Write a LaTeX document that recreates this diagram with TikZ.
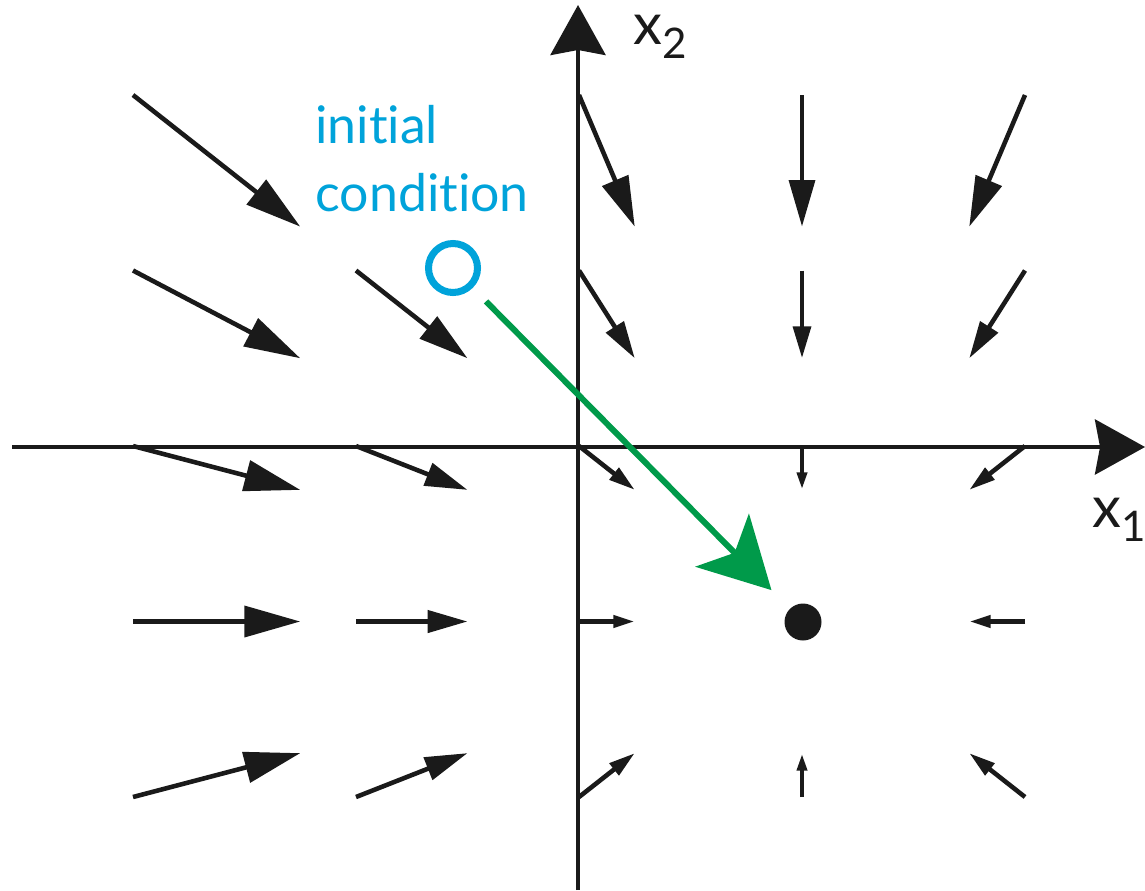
\documentclass[tikz,border=0pt]{standalone}
\usepackage{fontspec}
\setmainfont{Lato}[Ligatures=NoCommon]
\usetikzlibrary{arrows.meta, positioning, calc}
\definecolor{IC}{RGB}{0,163,218}
\definecolor{TR}{RGB}{0,154,74}
\definecolor{DK}{RGB}{26,26,26}

\begin{document}
\begin{tikzpicture}[
  x=0.02cm, y=-0.02cm,
  axis/.style={draw=DK, line width=2.4pt,
               -{Stealth[length=1cm, width=1.1cm, inset=0.1cm]}},
  field/.style={draw=DK, line width=2.6pt},
  lbl/.style={font=\fontsize{33}{33}\selectfont, text=DK, inner sep=0pt},
  start/.style={circle, draw=IC, line width=4pt, minimum size=0.98cm, inner sep=0pt},
  fixpt/.style={circle, fill=DK, minimum size=0.74cm, inner sep=0pt},
  traj/.style={draw=TR, line width=3.4pt,
               -{Stealth[length=1.4cm, width=1.5cm, inset=0.35cm]}}
]
\useasboundingbox (0,0) rectangle (1145,890);

% Axes
\coordinate (xl) at (12,447);
\coordinate (xr) at (1145,447);
\coordinate (yb) at (578,890);
\coordinate (yt) at (578,5);
\draw[axis] (xl) -- (xr);
\draw[axis] (yb) -- (yt);
\node[lbl, anchor=base west] (x2) at (633,44)
  {x\raisebox{-8pt}{\fontsize{24}{24}\selectfont 2}};
\node[lbl, anchor=base west] (x1) at (1092,527)
  {x\raisebox{-8pt}{\fontsize{24}{24}\selectfont 1}};

% Vector field towards the fixed point
\foreach \c in {0,...,4}
  \foreach \r in {0,...,4}{
    \pgfmathsetmacro\sx{133+223*\c}
    \pgfmathsetmacro\sy{95+175.5*\r}
    \pgfmathsetmacro\ex{\sx+0.25*(802-\sx)}
    \pgfmathsetmacro\ey{\sy+0.25*(621.5-\sy)}
    \pgfmathsetmacro\len{veclen(\ex-\sx,\ey-\sy)}
    \pgfmathsetmacro\hl{0.02*min(0.33*\len+3,56)}
    \pgfmathsetmacro\hw{0.55*\hl}
    \pgfmathtruncatemacro\noarrow{(\c==1 && \r==0) || (\c==3 && \r==3)}
    \ifnum\noarrow=0
      \coordinate (s\c\r) at (\sx,\sy);
      \coordinate (e\c\r) at (\ex,\ey);
      \draw[field, -{Triangle[length=\hl cm, width=\hw cm]}]
        (s\c\r) -- (e\c\r);
    \fi
  }

% Initial condition and trajectory
\node[font=\fontsize{29.5}{38.5}\selectfont, text=IC, align=left,
      anchor=base west, inner sep=0pt] (iclbl) at (315,211)
  {initial\\condition};
\node[start] (ic) at (453,268) {};
\node[fixpt] (fp) at (803,622) {};
\draw[traj, shorten <=0.38cm, shorten >=0.52cm] (ic) -- (fp);
\end{tikzpicture}
\end{document}
